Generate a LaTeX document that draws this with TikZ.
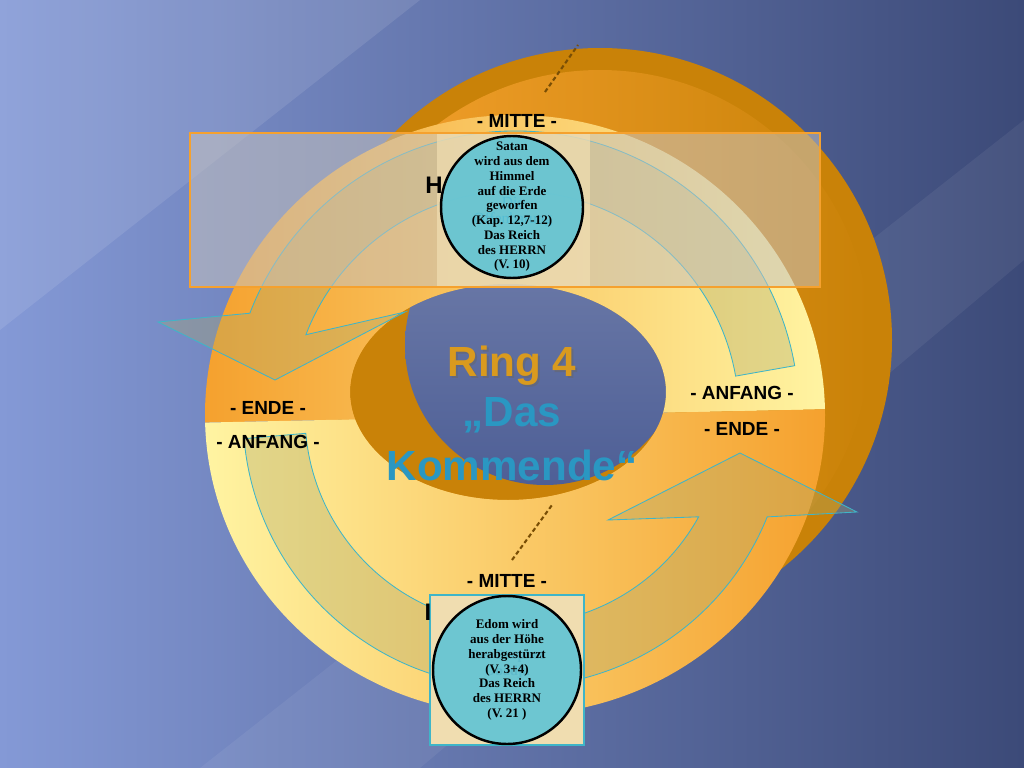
\documentclass[tikz,border=0pt]{standalone}
\usepackage{fontspec}
\setmainfont{Liberation Serif}
\setsansfont{Liberation Sans}
\usetikzlibrary{positioning,calc}
\definecolor{bgLight}{HTML}{8499D6}
\definecolor{bgDark}{HTML}{3C4A78}
\definecolor{ringOrange}{HTML}{F5A12E}
\definecolor{ringDeep}{HTML}{C98208}
\definecolor{ringYellow}{HTML}{FFF4A2}
\definecolor{holeBlue}{HTML}{4E5F96}
\definecolor{arrowCyan}{HTML}{3FB5C8}
\definecolor{discCyan}{HTML}{5BC3D6}
\definecolor{parchment}{HTML}{F0DDB0}
\definecolor{titleBlue}{HTML}{2A97C2}
\definecolor{titleGold}{HTML}{D99A1E}
\tikzset{
  mark label/.style={font=\sffamily\bfseries\fontsize{27}{27}\selectfont, text=black},
  disc/.style={circle, draw=black, line width=3.5pt, fill=discCyan, fill opacity=0.88, inner sep=0pt},
  disc text/.style={align=center, font=\bfseries\fontsize{18.5}{21}\selectfont},
  bent arrow/.style={draw=arrowCyan, line width=1.2pt, fill=arrowCyan!40!ringOrange, fill opacity=0.35},
  cut line/.style={ringDeep!60!black, dashed, line width=3pt, dash pattern=on 6pt off 4pt},
  title/.style={font=\sffamily\bfseries\fontsize{60}{60}\selectfont}
}
\begin{document}
\begin{tikzpicture}[x=0.05cm, y=-0.05cm]
  \useasboundingbox (0,0) rectangle (1024,768);
  \coordinate (C) at (515,415);

  % Background
  \shade[left color=bgLight, right color=bgDark] (0,0) rectangle (1024,768);
  \fill[white, opacity=0.10] (0,0) -- (420,0) -- (0,330) -- cycle;
  \fill[white, opacity=0.06] (200,768) -- (1024,120) -- (1024,260) -- (420,768) -- cycle;

  % Back ring
  \fill[ringDeep, even odd rule] (600,340) circle (292) (545,345) circle (140);
  \shade[left color=ringOrange, right color=ringDeep, even odd rule] (600,340) circle (270) (545,345) circle (140);
  \draw[cut line] (545,92) -- (578,45);

  % Inner hole of the front ring
  \fill[ringDeep] (508,392) ellipse [x radius=158, y radius=108];
  \begin{scope}
    \clip (508,392) ellipse [x radius=158, y radius=108];
    \shade[top color=holeBlue!80!white, bottom color=holeBlue] (545,345) circle (140);
  \end{scope}

  % Front ring
  \begin{scope}
    \clip (0,0) -- (1024,0) -- (1024,405) -- (0,427) -- cycle;
    \shade[left color=ringOrange, right color=ringYellow, even odd rule]
      (C) ellipse [x radius=310, y radius=300] (508,392) ellipse [x radius=158, y radius=108];
  \end{scope}
  \begin{scope}
    \clip (0,768) -- (1024,768) -- (1024,405) -- (0,427) -- cycle;
    \shade[left color=ringYellow, right color=ringOrange, even odd rule]
      (C) ellipse [x radius=310, y radius=300] (508,392) ellipse [x radius=158, y radius=108];
  \end{scope}
  \draw[cut line] (512,560) -- (552,505);

  % Bent arrows
  \draw[bent arrow] ($(C)+(-10:224)$) -- ($(C)+(-10:284)$)
    arc[start angle=-10, end angle=-159, radius=284]
    -- (158,322) -- (275,380) -- (405,312)
    -- ($(C)+(-159:224)$) arc[start angle=-159, end angle=-10, radius=224] -- cycle;
  \draw[bent arrow] ($(C)+(175:210)$) -- ($(C)+(175:272)$)
    arc[start angle=175, end angle=22, radius=272]
    -- (857,512) -- (740,453) -- (608,520)
    -- ($(C)+(29:210)$) arc[start angle=29, end angle=175, radius=210] -- cycle;

  % Ring marks
  \node[mark label] (mitteTop) at (517,121) {- MITTE -};
  \node[mark label] (endeLeft) at (268,408) {- ENDE -};
  \node[mark label] (anfangLeft) at (268,442) {- ANFANG -};
  \node[mark label] (anfangRight) at (742,393) {- ANFANG -};
  \node[mark label] (endeRight) at (742,429) {- ENDE -};
  \node[mark label] (mitteBottom) at (507,581) {- MITTE -};

  % Title
  \node[title, text=black!60, opacity=0.5] (ringShadow) at (514,368) {Ring 4};
  \node[title, text=titleGold] (ringNo) at (512,366) {Ring 4};
  \node[title, text=titleBlue] (ringDas) at (512,415) {„Das};
  \node[title, text=titleBlue] (ringKommende) at (512,465) {Kommende“};

  % Top panel
  \fill[parchment!60!bgLight, opacity=0.55] (190,133) rectangle (820,287);
  \fill[parchment, opacity=0.75] (437,133) rectangle (590,287);
  \draw[ringOrange, line width=1.5pt] (190,133) rectangle (820,287);
  \node[font=\sffamily\bfseries\fontsize{34}{34}\selectfont] (panelH) at (434,185) {H};
  \node[text=titleBlue, font=\fontsize{22}{24}\selectfont, align=center] (bookTop) at (513,212) {Die\\Offenbarung};
  \node[disc, minimum size=7.1cm] (satanDisc) at (512,207) {};
  \node[disc text] (satanText) at (satanDisc) {Satan\\wird aus dem\\Himmel\\auf die Erde\\geworfen\\(Kap. 12,7-12)\\Das Reich\\des HERRN\\(V. 10)};

  % Bottom panel
  \fill[parchment] (430,595) rectangle (584,745);
  \draw[arrowCyan, line width=2pt] (430,595) rectangle (584,745);
  \node[font=\sffamily\bfseries\fontsize{34}{34}\selectfont] (panelI) at (428,612) {I};
  \node[text=gray, font=\bfseries\fontsize{20}{22}\selectfont, align=center] (bookBottom) at (507,664) {Der Prophet\\Obadja};
  \node[disc, minimum size=7.4cm] (edomDisc) at (507,670) {};
  \node[disc text] (edomText) at (edomDisc) {Edom wird\\aus der Höhe\\herabgestürzt\\(V. 3+4)\\Das Reich\\des HERRN\\(V. 21 )};
\end{tikzpicture}
\end{document}
